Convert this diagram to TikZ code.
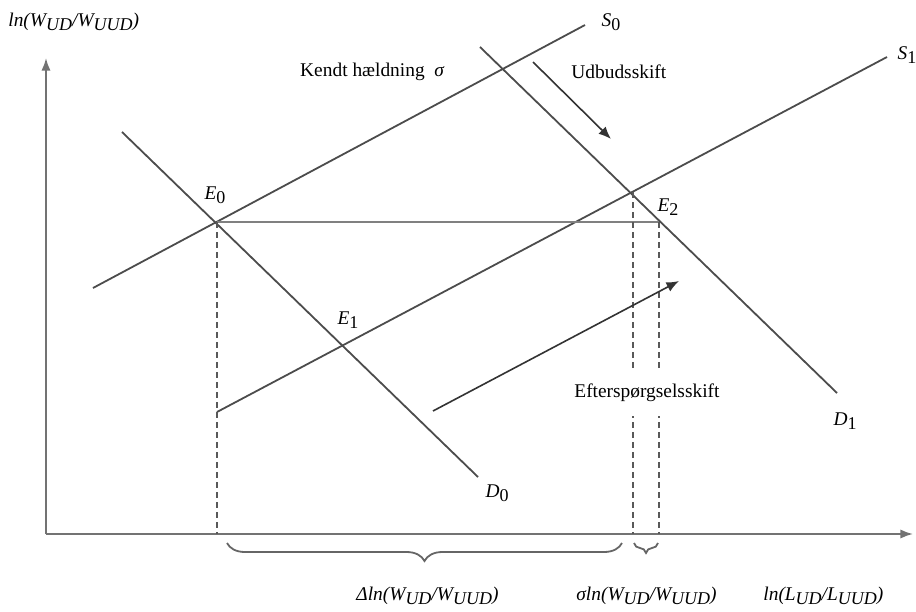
\documentclass[tikz,border=0pt]{standalone}
\usepackage{fontspec}
\setmainfont{Liberation Serif}
\usepackage{tikz}
\usetikzlibrary{arrows.meta,positioning,decorations.pathreplacing}

\newcommand{\lo}[1]{\raisebox{-0.45ex}{\small #1}}

\begin{document}
\begin{tikzpicture}[
    x=0.5pt, y=-0.5pt,
    font=\fontsize{9.7}{11}\selectfont,
    axis/.style={draw=black!55, line width=0.9pt, -{Latex[length=2.2mm, width=1.6mm]}},
    curve/.style={draw=black!70, line width=0.9pt},
    guide/.style={draw=black!65, line width=0.7pt, dashed, dash pattern=on 3pt off 2pt},
    level/.style={draw=black!50, line width=1pt},
    shiftarrow/.style={draw=black!80, line width=0.8pt, -{Latex[length=2.2mm, width=1.8mm]}},
    brace/.style={draw=black!60, line width=0.9pt, decorate,
        decoration={brace, mirror, amplitude=9pt}},
    lbl/.style={inner sep=1pt, font=\fontsize{9.7}{11}\selectfont\itshape}
]
\useasboundingbox (0,0) rectangle (916,611);

% axes
\coordinate (origin) at (46,534);
\coordinate (ytop) at (46,58);
\coordinate (xend) at (913,534);
\draw[axis] (origin) -- (ytop);
\draw[axis] (origin) -- (xend);

% supply and demand
\coordinate (s0a) at (93,288);
\coordinate (s0b) at (585,25);
\coordinate (s1a) at (217,412);
\coordinate (s1b) at (887,57);
\coordinate (d0a) at (122,132);
\coordinate (d0b) at (478,477);
\coordinate (d1a) at (480,47);
\coordinate (d1b) at (837,393);
\draw[curve] (s0a) -- (s0b);
\draw[curve] (s1a) -- (s1b);
\draw[curve] (d0a) -- (d0b);
\draw[curve] (d1a) -- (d1b);

% equilibria
\coordinate (e0) at (217,222);
\coordinate (e2) at (633,192);
\coordinate (e3) at (659,222);
\coordinate (f0) at (217,534);
\coordinate (f2) at (633,534);
\coordinate (f3) at (659,534);
\draw[level] (e0) -- (e3);
\draw[guide] (e0) -- (f0);
\draw[guide] (e2) -- (f2);
\draw[guide] (e3) -- (f3);

% shifts
\coordinate (us1) at (533,62);
\coordinate (us2) at (611,139);
\coordinate (ds1) at (433,411);
\coordinate (ds2) at (679,281);
\draw[shiftarrow] (us1) -- (us2);
\draw[shiftarrow] (ds1) -- (ds2);

% braces
\coordinate (b0) at (227,543);
\coordinate (b1) at (622,543);
\coordinate (b2) at (634,543);
\coordinate (b3) at (658,543);
\draw[brace] (b0) -- (b1);
\draw[brace, decoration={brace, mirror, amplitude=5pt}] (b2) -- (b3);

% labels
\node[lbl, anchor=west] (ylab) at (6,22) {ln(W\lo{UD}/W\lo{UUD})};
\node[lbl] (s0lab) at (611,22) {S\lo{\upshape 0}};
\node[lbl] (s1lab) at (907,55) {S\lo{\upshape 1}};
\node[lbl] (e0lab) at (215,195) {E\lo{\upshape 0}};
\node[lbl] (e1lab) at (348,320) {E\lo{\upshape 1}};
\node[lbl] (e2lab) at (668,207) {E\lo{\upshape 2}};
\node[lbl] (d0lab) at (497,493) {D\lo{\upshape 0}};
\node[lbl] (d1lab) at (845,421) {D\lo{\upshape 1}};
\node[anchor=east, inner sep=1pt] (kendt) at (447,72) {Kendt hældning \ \textit{σ}};
\node[anchor=west, inner sep=1pt] (udbud) at (569,72) {Udbudsskift};
\node[anchor=west, fill=white, inner xsep=1pt, inner ysep=7pt] (efter) at (572,393) {Efterspørgselsskift};
\node[lbl, anchor=west] (dlab) at (354,596) {Δln(W\lo{UD}/W\lo{UUD})};
\node[lbl, anchor=west] (slab) at (574,596) {σln(W\lo{UD}/W\lo{UUD})};
\node[lbl, anchor=west] (xlab) at (761,596) {ln(L\lo{UD}/L\lo{UUD})};
\end{tikzpicture}
\end{document}
